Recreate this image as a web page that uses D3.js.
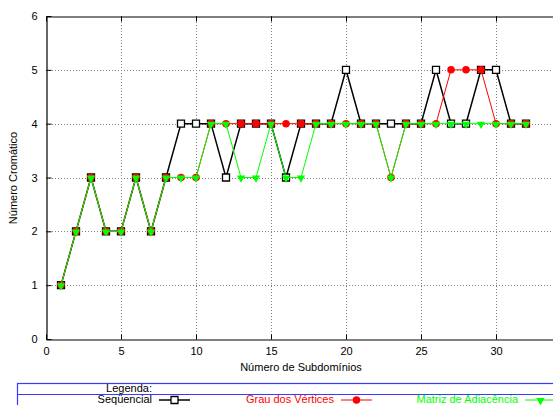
<!DOCTYPE html>
<html><head><meta charset="utf-8">
<script src="https://cdn.jsdelivr.net/npm/d3@7"></script>
<style>body{margin:0;background:#fff;}svg{display:block;font-family:"Liberation Sans",Arial,Helvetica,sans-serif;}</style>
</head><body>
<script>
const subdominios = [1,2,3,4,5,6,7,8,9,10,11,12,13,14,15,16,17,18,19,20,21,22,23,24,25,26,27,28,29,30,31,32];
const sequencial = [1,2,3,2,2,3,2,3,4,4,4,3,4,4,4,3,4,4,4,5,4,4,4,4,4,5,4,4,5,5,4,4];
const grauVertices = [1,2,3,2,2,3,2,3,3,3,4,4,4,4,4,4,4,4,4,4,4,4,3,4,4,4,5,5,5,4,4,4];
const matrizAdiacencia = [1,2,3,2,2,3,2,3,3,3,4,4,3,3,4,3,3,4,4,4,4,4,3,4,4,4,4,4,4,4,4,4];
const xTicks = [0,5,10,15,20,25,30];
const yTicks = [0,1,2,3,4,5,6];
const seriesNames = ["Seqüencial","Grau dos Vértices","Matriz de Adiacência"];

const W = 553, H = 405;
const svg = d3.select("body").append("svg").attr("width", W).attr("height", H);
const x = d3.scaleLinear().domain([0, 34]).range([46, 556]);
const y = d3.scaleLinear().domain([0, 6]).range([339, 16]);

// grid
const g = svg.append("g");
g.selectAll(".gx").data(xTicks.filter(d => d > 0)).enter().append("line")
  .attr("x1", d => Math.round(x(d)) + 0.5).attr("x2", d => Math.round(x(d)) + 0.5)
  .attr("y1", y(6)).attr("y2", y(0))
  .attr("stroke", "#808080").attr("stroke-width", 1).attr("stroke-dasharray", "1,2");
g.selectAll(".gy").data(yTicks.filter(d => d > 0 && d < 6)).enter().append("line")
  .attr("y1", d => Math.round(y(d)) + 0.5).attr("y2", d => Math.round(y(d)) + 0.5)
  .attr("x1", x(0)).attr("x2", x(34))
  .attr("stroke", "#808080").attr("stroke-width", 1).attr("stroke-dasharray", "1,2");

// axes
const xAxisB = d3.axisBottom(x).tickValues(xTicks).tickSizeInner(-5).tickSizeOuter(0).tickPadding(8).tickFormat(d3.format("d"));
const xAxisT = d3.axisTop(x).tickValues(xTicks).tickSizeInner(-5).tickSizeOuter(0).tickFormat("");
const yAxisL = d3.axisLeft(y).tickValues(yTicks).tickSizeInner(-5).tickSizeOuter(0).tickPadding(9).tickFormat(d3.format("d"));
const ab = svg.append("g").attr("transform", "translate(0,339.5)").call(xAxisB);
const at = svg.append("g").attr("transform", "translate(0,16.5)").call(xAxisT);
const al = svg.append("g").attr("transform", "translate(46.5,0)").call(yAxisL);
[ab, at, al].forEach(a => {
  a.selectAll("path").attr("stroke", "#000").attr("stroke-width", 1.2);
  a.selectAll("line").attr("stroke", "#000");
  a.selectAll("text").attr("font-size", 11).attr("fill", "#000")
    .attr("font-family", '"Liberation Sans",Arial,sans-serif');
});

// axis labels
svg.append("text").attr("x", 301).attr("y", 371).attr("text-anchor", "middle")
  .attr("font-size", 11).text("Número de Subdomínios");
svg.append("text").attr("transform", "translate(17,178) rotate(-90)").attr("text-anchor", "middle")
  .attr("font-size", 11).text("Número Cromático");

const sym = {
  square: d3.symbol().type(d3.symbolSquare).size(49),
  circle: d3.symbol().type(d3.symbolCircle).size(44),
  tri: d3.symbol().type(d3.symbolTriangle).size(30)
};

function drawSeries(vals, color, lw, kind) {
  const data = subdominios.map((d, i) => [d, vals[i]]);
  const line = d3.line().x(d => x(d[0])).y(d => y(d[1]));
  svg.append("path").datum(data).attr("d", line).attr("fill", "none")
    .attr("stroke", color).attr("stroke-width", lw);
  const pts = svg.append("g").selectAll("path").data(data).enter().append("path");
  if (kind === "square") {
    pts.attr("d", sym.square()).attr("fill", "#fff").attr("stroke", "#000").attr("stroke-width", 1.3)
      .attr("transform", d => `translate(${x(d[0])},${y(d[1])})`);
  } else if (kind === "circle") {
    pts.attr("d", sym.circle()).attr("fill", color)
      .attr("transform", d => `translate(${x(d[0])},${y(d[1])})`);
  } else {
    pts.attr("d", sym.tri()).attr("fill", color)
      .attr("transform", d => `translate(${x(d[0])},${y(d[1]) + 0.5}) rotate(180)`);
  }
}
drawSeries(sequencial, "#000", 1.5, "square");
drawSeries(grauVertices, "#ff0000", 1, "circle");
drawSeries(matrizAdiacencia, "#00ff00", 1, "tri");

// legend
const lg = svg.append("g");
lg.append("rect").attr("x", 17.5).attr("y", 383.5).attr("width", 600).attr("height", 60)
  .attr("fill", "none").attr("stroke", "#3a3aff").attr("stroke-width", 1.2);
lg.append("line").attr("x1", 17.5).attr("x2", 600).attr("y1", 394.5).attr("y2", 394.5)
  .attr("stroke", "#3a3aff").attr("stroke-width", 1.2);
lg.append("text").attr("x", 152).attr("y", 392).attr("text-anchor", "end").attr("font-size", 11).text("Legenda:");
const legCols = [
  {name: seriesNames[0], tx: 152, color: "#000", tc: "#000", kind: "square", lw: 1.5},
  {name: seriesNames[1], tx: 334, color: "#ff0000", tc: "#ff0000", kind: "circle", lw: 1},
  {name: seriesNames[2], tx: 518, color: "#00ff00", tc: "#00ff00", kind: "tri", lw: 1}
];
const ly = 400;
legCols.forEach(c => {
  lg.append("text").attr("x", c.tx).attr("y", 402.5).attr("text-anchor", "end")
    .attr("font-size", 11).attr("fill", c.tc).text(c.name);
  lg.append("line").attr("x1", c.tx + 7).attr("x2", c.tx + 38).attr("y1", ly).attr("y2", ly)
    .attr("stroke", c.color).attr("stroke-width", c.lw);
  const mx = c.tx + 22.5;
  if (c.kind === "square") {
    lg.append("path").attr("d", sym.square()).attr("fill", "#fff").attr("stroke", "#000").attr("stroke-width", 1.3)
      .attr("transform", `translate(${mx},${ly})`);
  } else if (c.kind === "circle") {
    lg.append("path").attr("d", sym.circle()).attr("fill", c.color).attr("transform", `translate(${mx},${ly})`);
  } else {
    lg.append("path").attr("d", sym.tri()).attr("fill", c.color).attr("transform", `translate(${mx},${ly + 0.5}) rotate(180)`);
  }
});
</script>
</body></html>
